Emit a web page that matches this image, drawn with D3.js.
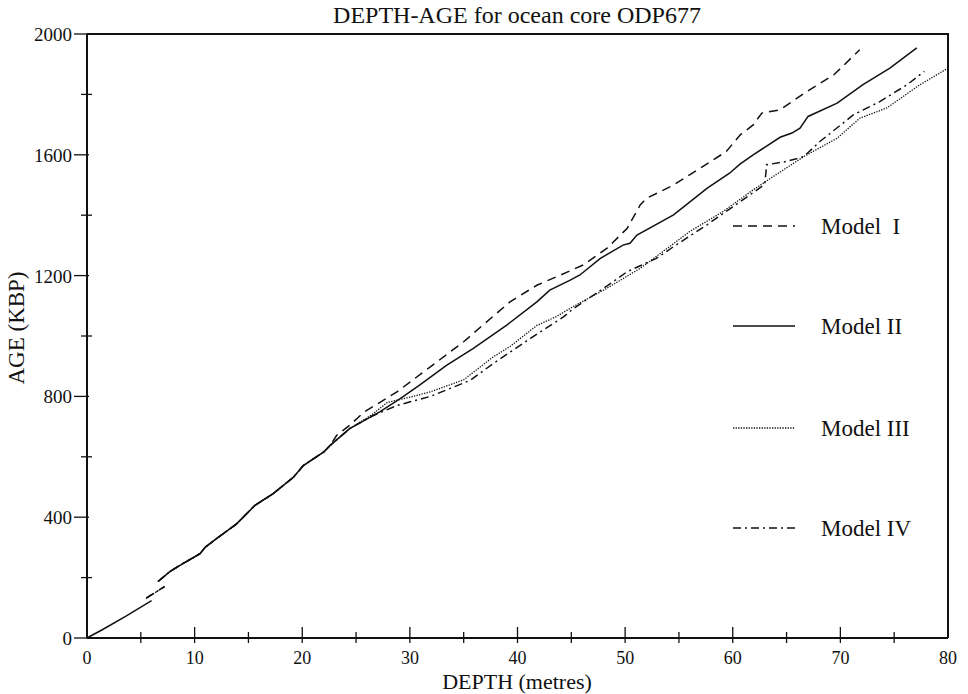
<!DOCTYPE html>
<html>
<head>
<meta charset="utf-8">
<script src="https://cdn.jsdelivr.net/npm/d3@7"></script>
<style>
	body { margin: 0; background: #fff; }
	svg text { font-family: "Liberation Serif", "Times New Roman", serif; fill: #111; }
</style>
</head>
<body>
<svg id="chart" width="968" height="694"></svg>
<script>
// depth in metres, age in KBP
var xTicks = [0, 10, 20, 30, 40, 50, 60, 70, 80];
var yTicks = [0, 400, 800, 1200, 1600, 2000];
var modelNames = ["Model  I", "Model II", "Model III", "Model IV"];

// common start of the curves (all models lie on top of each other here)
var firstPiece = [[0, 0], [1.5, 29], [3.7, 74], [6.0, 124]];
var shortPiece = [[5.5, 132], [6.4, 152], [7.2, 170]];
var sharedPart = [[6.6, 187], [7.7, 220], [8.6, 240], [10.5, 279], [11.0, 301], [12.0, 328],
	[13.9, 378], [15.6, 439], [17.3, 478], [19.2, 533], [20.1, 571], [22.0, 616], [22.6, 638]];

var modelI = [[23.2, 671], [24.4, 704], [25.7, 747], [28.8, 815], [31.9, 898], [35.0, 981],
	[37.5, 1058], [39.3, 1113], [41.8, 1168], [44.0, 1202], [46.1, 1235], [48.3, 1290],
	[50.2, 1357], [51.4, 1434], [52.0, 1456], [54.5, 1500], [57.0, 1556], [59.4, 1611],
	[60.7, 1666], [61.9, 1699], [62.7, 1738], [64.4, 1749], [66.9, 1810], [69.4, 1865], [71.8, 1948]];

var modelII = [[24.4, 693], [27.2, 749], [29.1, 793], [30.9, 837], [33.4, 903], [35.9, 959],
	[39.0, 1036], [41.8, 1113], [43.0, 1152], [44.9, 1185], [45.8, 1202], [47.7, 1257],
	[49.8, 1301], [50.45, 1307], [51.1, 1334], [54.5, 1401], [57.6, 1489], [59.7, 1539],
	[60.7, 1570], [61.9, 1600], [64.4, 1658], [65.5, 1672], [66.25, 1688], [67.0, 1727],
	[69.7, 1771], [72.1, 1832], [74.6, 1887], [77.1, 1954]];

var modelIII = [[24.4, 693], [26.5, 740], [27.9, 780], [30.3, 800], [31.9, 815], [35.0, 855],
	[37.75, 931], [39.3, 965], [41.8, 1035], [43.6, 1064], [45.2, 1098], [48.3, 1158],
	[51.4, 1224], [53.9, 1290], [56.0, 1346], [59.1, 1412], [61.9, 1484], [63.5, 1522],
	[66.6, 1594], [69.7, 1655], [71.8, 1721], [74.3, 1755], [77.4, 1832], [80.0, 1887]];

var modelIV = [[24.4, 693], [26.5, 735], [28.8, 770], [31.9, 800], [35.6, 853], [37.75, 909],
	[41.2, 992], [44.3, 1064], [45.2, 1091], [48.3, 1165], [50.2, 1213], [52.9, 1257],
	[54.5, 1296], [57.6, 1368], [60.7, 1445], [62.9, 1500], [63.0, 1511], [63.15, 1567],
	[65.0, 1578], [66.6, 1594], [68.1, 1644], [71.2, 1732], [73.7, 1777], [76.2, 1832], [77.8, 1876]];

var svg = d3.select("#chart");

var x = d3.scaleLinear().domain([0, 80]).range([87, 948]);
var y = d3.scaleLinear().domain([0, 2000]).range([638, 34]);

// a null splits the path into pieces
var series = [
	{ name: modelNames[0], dash: "9,6", width: 1.5,
		points: shortPiece.concat([null], sharedPart, modelI) },
	{ name: modelNames[1], dash: null, width: 1.5,
		points: firstPiece.concat([null], sharedPart, modelII) },
	{ name: modelNames[2], dash: "1.3,1.3", width: 1.3,
		points: shortPiece.concat([null], sharedPart, modelIII) },
	{ name: modelNames[3], dash: "8,4,2,4", width: 1.5,
		points: shortPiece.concat([null], sharedPart, modelIV) }
];

var line = d3.line()
	.defined(function(d) { return d !== null; })
	.x(function(d) { return x(d[0]); })
	.y(function(d) { return y(d[1]); });

svg.append("g").selectAll("path")
	.data(series)
	.join("path")
	.attr("d", function(d) { return line(d.points); })
	.attr("fill", "none")
	.attr("stroke", "#111")
	.attr("stroke-width", function(d) { return d.width; })
	.attr("stroke-dasharray", function(d) { return d.dash; });

// frame
svg.append("path")
	.attr("d", "M" + x(0) + "," + y(2000) + "H" + x(80) + "V" + y(0))
	.attr("fill", "none")
	.attr("stroke", "#111")
	.attr("stroke-width", 2);

// bottom axis, ticks every 5 m crossing the line
var xAxis = svg.append("g").attr("transform", "translate(0," + y(0) + ")");
xAxis.append("line").attr("x1", x(0)).attr("x2", x(80)).attr("stroke", "#111").attr("stroke-width", 2);
xAxis.selectAll(".tk")
	.data(d3.range(5, 80, 5))
	.join("line")
	.attr("x1", function(d) { return x(d); })
	.attr("x2", function(d) { return x(d); })
	.attr("y1", function(d) { return d % 10 === 0 ? -11 : -6; })
	.attr("y2", 5)
	.attr("stroke", "#111")
	.attr("stroke-width", 1.3);
xAxis.selectAll("text")
	.data(xTicks)
	.join("text")
	.attr("x", function(d) { return x(d); })
	.attr("y", 26)
	.attr("text-anchor", "middle")
	.attr("font-size", 18)
	.text(function(d) { return d; });

// left axis, ticks every 200 kbp
var yAxis = svg.append("g").attr("transform", "translate(" + x(0) + ",0)");
yAxis.append("line").attr("y1", y(0)).attr("y2", y(2000)).attr("stroke", "#111").attr("stroke-width", 2);
yAxis.selectAll(".tk")
	.data(d3.range(0, 2001, 200))
	.join("line")
	.attr("y1", function(d) { return y(d); })
	.attr("y2", function(d) { return y(d); })
	.attr("x1", function(d) { return d % 400 === 0 ? -13 : -6; })
	.attr("x2", function(d) { return d % 400 === 0 ? 2 : 5; })
	.attr("stroke", "#111")
	.attr("stroke-width", 1.3);
yAxis.selectAll("text")
	.data(yTicks)
	.join("text")
	.attr("x", -15)
	.attr("y", function(d) { return y(d) + 7; })
	.attr("text-anchor", "end")
	.attr("font-size", 19)
	.text(function(d) { return d; });

// titles
svg.append("text")
	.attr("x", 517).attr("y", 23)
	.attr("text-anchor", "middle")
	.attr("font-size", 24)
	.text("DEPTH-AGE for ocean core ODP677");

svg.append("text")
	.attr("x", 517).attr("y", 689)
	.attr("text-anchor", "middle")
	.attr("font-size", 22)
	.text("DEPTH (metres)");

svg.append("text")
	.attr("transform", "translate(24,328) rotate(-90)")
	.attr("text-anchor", "middle")
	.attr("font-size", 23)
	.text("AGE (KBP)");

// legend
var legendY = [226, 326, 428, 528];
var legend = svg.append("g").selectAll("g")
	.data(series)
	.join("g")
	.attr("transform", function(d, i) { return "translate(733," + legendY[i] + ")"; });

legend.append("line")
	.attr("x1", 0).attr("x2", 62)
	.attr("stroke", "#111")
	.attr("stroke-width", function(d) { return d.width; })
	.attr("stroke-dasharray", function(d) { return d.dash; });

legend.append("text")
	.attr("x", 88).attr("y", 8)
	.attr("font-size", 23)
	.style("white-space", "pre")
	.text(function(d) { return d.name; });
</script>
</body>
</html>
